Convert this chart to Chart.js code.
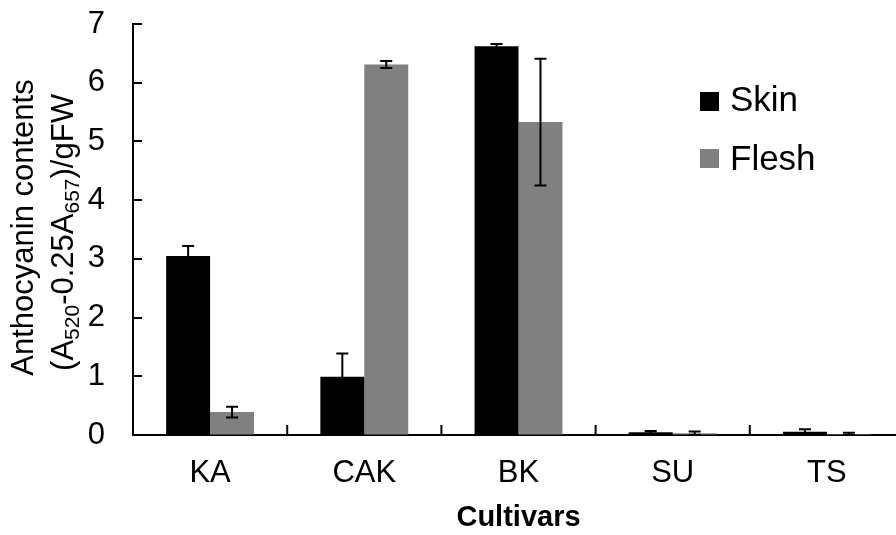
<!DOCTYPE html>
<html><head><meta charset="utf-8">
<script src="https://cdn.jsdelivr.net/npm/chart.js@4"></script>
<style>html,body{margin:0;padding:0;overflow:hidden;background:#fff}#wrap{width:904px;height:535px}</style>
</head><body><div id="wrap"><canvas id="c" width="904" height="535"></canvas></div>
<script>
const categories = ['KA', 'CAK', 'BK', 'SU', 'TS'];
const skinValues = [3.05, 0.99, 6.62, 0.045, 0.055];
const skinErrors = [0.17, 0.40, 0.04, 0.025, 0.045];
const fleshValues = [0.39, 6.31, 5.33, 0.03, 0.015];
const fleshErrors = [0.09, 0.06, 1.08, 0.03, 0.025];
const yTicks = [0, 1, 2, 3, 4, 5, 6, 7];

const FONT = "'Liberation Sans', Arial, sans-serif";

const errorBars = {
  id: 'errorBars',
  afterDatasetsDraw(chart) {
    const ctx = chart.ctx, ys = chart.scales.y;
    chart.data.datasets.forEach((ds, di) => {
      const meta = chart.getDatasetMeta(di);
      meta.data.forEach((bar, i) => {
        const v = ds.data[i], e = ds.errors[i];
        const x = bar.x;
        const top = ys.getPixelForValue(v + e);
        const bot = ys.getPixelForValue(Math.max(0, v - e));
        ctx.save();
        ctx.strokeStyle = '#000';
        ctx.lineWidth = 2;
        ctx.beginPath();
        ctx.moveTo(x, top); ctx.lineTo(x, bot);
        ctx.moveTo(x - 6, top); ctx.lineTo(x + 6, top);
        ctx.moveTo(x - 6, bot); ctx.lineTo(x + 6, bot);
        ctx.stroke();
        ctx.restore();
      });
    });
  }
};

const innerTicks = {
  id: 'innerTicks',
  afterDraw(chart) {
    const ctx = chart.ctx, xs = chart.scales.x, ys = chart.scales.y, a = chart.chartArea;
    ctx.save();
    ctx.strokeStyle = '#000';
    ctx.lineWidth = 2;
    ctx.beginPath();
    yTicks.forEach(t => {
      const py = Math.round(ys.getPixelForValue(t));
      ctx.moveTo(a.left, py); ctx.lineTo(a.left + 9, py);
    });
    for (let i = 1; i < categories.length; i++) {
      const px = (xs.getPixelForValue(i - 1) + xs.getPixelForValue(i)) / 2;
      ctx.moveTo(px, a.bottom); ctx.lineTo(px, a.bottom - 10);
    }
    ctx.stroke();
    ctx.restore();
  }
};

const customLegend = {
  id: 'customLegend',
  afterDraw(chart) {
    const ctx = chart.ctx;
    ctx.save();
    ctx.font = '35px ' + FONT;
    ctx.textBaseline = 'alphabetic';
    ctx.textAlign = 'left';
    const rows = [[111, 92], [170, 149]];
    chart.data.datasets.forEach((ds, i) => {
      const [by, sq] = rows[i];
      ctx.fillStyle = ds.backgroundColor;
      ctx.fillRect(700, sq, 19, 19);
      ctx.fillStyle = '#000';
      ctx.fillText(ds.label, 730, by);
    });
    ctx.restore();
  }
};

const yTitle = {
  id: 'yTitle',
  afterDraw(chart) {
    const ctx = chart.ctx;
    ctx.save();
    ctx.fillStyle = '#000';
    ctx.translate(33, 227.5);
    ctx.rotate(-Math.PI / 2);
    ctx.font = '31px ' + FONT;
    ctx.textAlign = 'center';
    ctx.textBaseline = 'alphabetic';
    ctx.fillText('Anthocyanin contents', 0, 0);
    ctx.restore();
    const segs = [['(A', false], ['520', true], ['-0.25A', false], ['657', true], [')/gFW', false]];
    ctx.save();
    ctx.fillStyle = '#000';
    ctx.translate(73, 232.5);
    ctx.rotate(-Math.PI / 2);
    ctx.textAlign = 'left';
    ctx.textBaseline = 'alphabetic';
    let total = 0;
    segs.forEach(([t, sub]) => { ctx.font = (sub ? '21px ' : '31px ') + FONT; total += ctx.measureText(t).width; });
    let cx = -total / 2;
    segs.forEach(([t, sub]) => {
      ctx.font = (sub ? '21px ' : '31px ') + FONT;
      ctx.fillText(t, cx, sub ? 6 : 0);
      cx += ctx.measureText(t).width;
    });
    ctx.restore();
  }
};

new Chart(document.getElementById('c'), {
  type: 'bar',
  data: {
    labels: categories,
    datasets: [
      { label: 'Skin', data: skinValues, errors: skinErrors, backgroundColor: '#000000', borderWidth: 0 },
      { label: 'Flesh', data: fleshValues, errors: fleshErrors, backgroundColor: '#808080', borderWidth: 0 }
    ]
  },
  options: {
    responsive: false,
    animation: false,
    devicePixelRatio: 1,
    layout: { padding: { top: 24, left: 0, right: 0, bottom: 0 } },
    plugins: { legend: { display: false }, tooltip: { enabled: false } },
    datasets: { bar: { categoryPercentage: 0.57, barPercentage: 1 } },
    scales: {
      x: {
        z: 1,
        grid: { display: true, drawOnChartArea: false, drawTicks: false },
        border: { color: '#000', width: 2 },
        ticks: { color: '#000', font: { family: FONT, size: 31 }, padding: 20 },
        title: { display: true, text: 'Cultivars', color: '#000', font: { family: FONT, size: 29, weight: 'bold' }, padding: { top: 0, bottom: 0 } },
        afterFit(s) { s.height = 100; }
      },
      y: {
        min: 0, max: 7,
        grid: { display: true, drawOnChartArea: false, drawTicks: false },
        border: { color: '#000', width: 2 },
        ticks: { color: '#000', stepSize: 1, font: { family: FONT, size: 31 }, padding: 28,
          callback: (v) => yTicks.includes(v) ? String(v) : '' },
        afterFit(s) { s.width = 133; s.paddingTop = 0; s.paddingBottom = 0; }
      }
    }
  },
  plugins: [errorBars, innerTicks, customLegend, yTitle]
});
</script>
</body></html>
